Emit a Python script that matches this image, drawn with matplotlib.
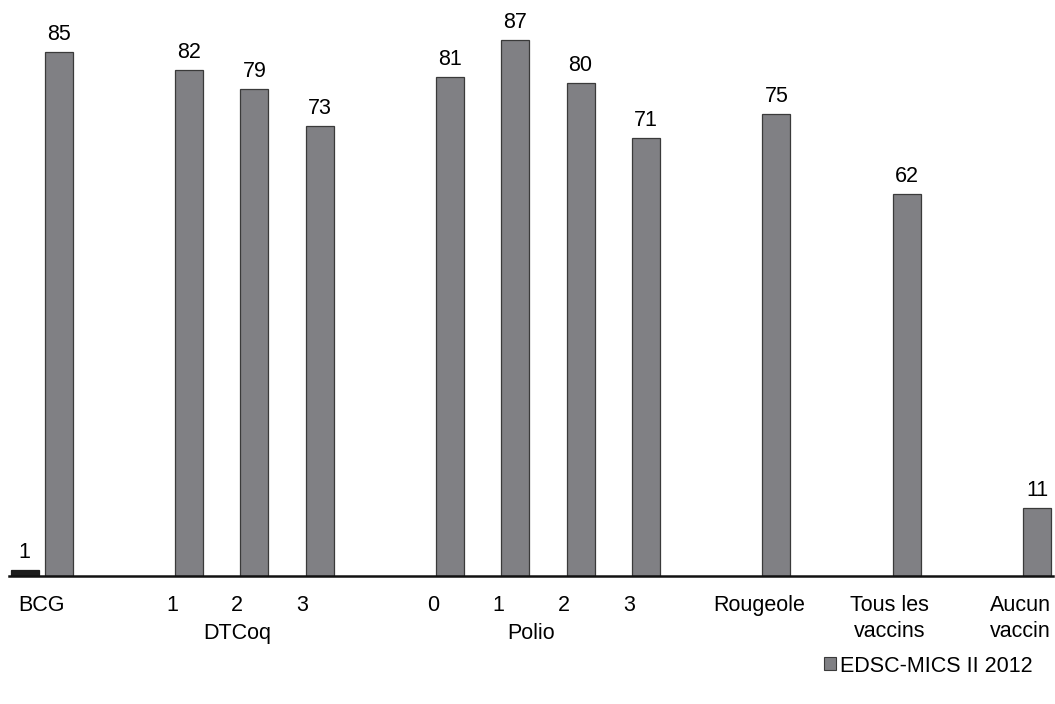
import matplotlib.pyplot as plt
import numpy as np
from matplotlib.patches import Patch
from matplotlib.transforms import blended_transform_factory

plt.rcParams['font.family'] = ['Liberation Sans', 'DejaVu Sans']

# one slot per category, empty strings are the gaps between groups
categories = ["BCG", "", "1", "2", "3", "", "0", "1", "2", "3", "",
              "Rougeole", "", "Tous les\nvaccins", "", "Aucun\nvaccin"]
edsc_2012 = [85, None, 82, 79, 73, None, 81, 87, 80, 71, None,
             75, None, 62, None, 11]
older = [1, None, None, None, None, None, None, None, None, None, None,
         None, None, None, None, None]
groups = [("DTCoq", 2, 4), ("Polio", 6, 9)]
legend_label = "EDSC-MICS II 2012"

grey = "#808084"
dark = "#1c1c1c"
width = 0.43
off = 0.26
fs = 15.5

fig = plt.figure(figsize=(10.55, 7.04), dpi=100)
ax = fig.add_axes([9 / 1055, 1 - 576 / 704, 1044 / 1055, 555 / 704])

x = np.arange(len(categories))

def draw(vals, shift, color, edge):
    xs = [xi + shift for xi, v in zip(x, vals) if v is not None]
    hs = [v for v in vals if v is not None]
    bars = ax.bar(xs, hs, width=width, color=color, edgecolor=edge, linewidth=0.9)
    for b, h in zip(bars, hs):
        ax.annotate(str(h), (b.get_x() + b.get_width() / 2, h),
                    xytext=(0, 5), textcoords="offset points",
                    ha="center", va="bottom", fontsize=fs)
    return bars

draw(older, -off, dark, dark)
draw(edsc_2012, off, grey, "#3a3a3a")

ax.set_xlim(-0.5, len(categories) - 0.5)
ax.set_ylim(0, 90)

for s in ["top", "right", "left"]:
    ax.spines[s].set_visible(False)
ax.spines["bottom"].set_linewidth(1.8)
ax.spines["bottom"].set_color("#111111")
ax.set_yticks([])

ax.set_xticks(x)
ax.set_xticklabels(categories, fontsize=fs, linespacing=1.3)
ax.tick_params(axis="x", length=0, pad=14)

trans = blended_transform_factory(ax.transData, ax.transAxes)
for name, a, b in groups:
    ax.annotate(name, ((a + b) / 2, 0), xycoords=trans,
                xytext=(0, -34), textcoords="offset points",
                ha="center", va="top", fontsize=fs)

fig.legend(handles=[Patch(facecolor=grey, edgecolor="#3a3a3a", linewidth=0.8)],
           labels=[legend_label], loc="center left",
           bbox_to_anchor=(824 / 1055, 1 - 666 / 704),
           frameon=False, fontsize=fs, handlelength=0.55, handleheight=0.55,
           handletextpad=0.2, borderpad=0, borderaxespad=0)

fig.savefig("out.png", dpi=100)
